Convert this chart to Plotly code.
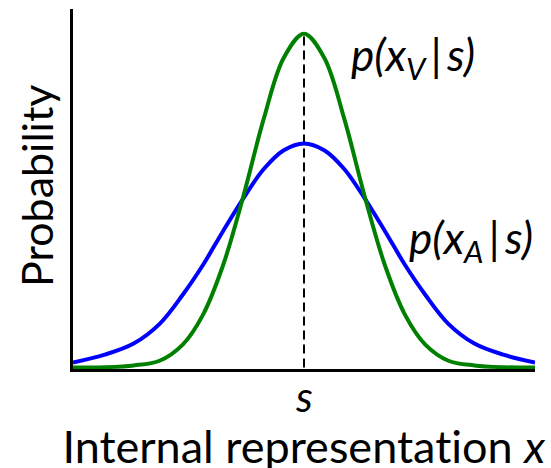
import plotly.graph_objects as go

# Positions along the internal-representation axis (s = 0)
x_vals = [-4.0, -3.45, -2.95, -2.5, -2.1, -1.75, -1.4, -1.05, -0.7, -0.35, 0.0,
          0.35, 0.7, 1.05, 1.4, 1.75, 2.1, 2.5, 2.95, 3.45, 4.0]
# p(x_A | s) : wide blue curve
p_auditory = [0.014, 0.036, 0.067, 0.122, 0.203, 0.286, 0.381, 0.472, 0.553, 0.606, 0.625,
              0.606, 0.553, 0.472, 0.381, 0.286, 0.203, 0.122, 0.067, 0.036, 0.014]
# p(x_V | s) : narrow green curve
p_visual = [0.0, 0.001, 0.006, 0.019, 0.064, 0.147, 0.286, 0.478, 0.692, 0.864, 0.931,
            0.864, 0.692, 0.478, 0.286, 0.147, 0.064, 0.019, 0.006, 0.001, 0.0]
s_value = 0.0
s_peak = 0.931

x_title = "Internal representation <i>x</i>"
y_title = "Probability"
s_label = "s"
label_v = "p(x<sub>V</sub>\u2009|\u2009s)"
label_a = "p(x<sub>A</sub>\u2009|\u2009s)"

FONT = "Lato"

fig = go.Figure()
fig.add_trace(go.Scatter(x=[s_value, s_value], y=[0, s_peak], mode="lines",
                         line=dict(color="black", width=2, dash="9px,5px"),
                         hoverinfo="skip", showlegend=False))
fig.add_trace(go.Scatter(x=x_vals, y=p_auditory, mode="lines", line_shape="spline",
                         line=dict(color="#0000FF", width=4), showlegend=False))
fig.add_trace(go.Scatter(x=x_vals, y=p_visual, mode="lines", line_shape="spline",
                         line=dict(color="#008000", width=4), showlegend=False))

ax_common = dict(showline=True, linecolor="black", linewidth=3, showgrid=False,
                 zeroline=False, showticklabels=False, ticks="", fixedrange=True)
fig.update_xaxes(range=[-4, 4], **ax_common)
fig.update_yaxes(range=[-0.004, 1.0], **ax_common)

def px_to_paper(px, py):
    return (px - 73) / 462.0, (369 - py) / 360.0

annos = []
def add_label(text, px, py, size, italic=False, angle=0):
    xp, yp = px_to_paper(px, py)
    font = dict(family=FONT, size=size, color="black")
    if italic:
        font["style"] = "italic"
    annos.append(dict(text=text, x=xp, y=yp, xref="paper", yref="paper",
                      xanchor="center", yanchor="middle", showarrow=False,
                      textangle=angle, font=font))

add_label(x_title, 304, 446, 45)
add_label(s_label, 304, 396, 42, italic=True)
add_label(y_title, 36, 186, 43, angle=-90)
add_label(label_v, 413, 58, 44, italic=True)
add_label(label_a, 471, 241, 44, italic=True)

fig.update_layout(width=551, height=468, margin=dict(l=73, r=16, t=9, b=99),
                  paper_bgcolor="white", plot_bgcolor="white",
                  annotations=annos, showlegend=False)

post_js = (
    "document.body.style.margin='0';"
    "document.body.style.overflow='hidden';"
    "var st=document.createElement('style');"
    "st.textContent='text,tspan{font-variant-ligatures:none;font-feature-settings:\"liga\" 0,\"clig\" 0;}';"
    "document.head.appendChild(st);"
)
fig.write_html("out.html", config={"displayModeBar": False}, post_script=post_js)
